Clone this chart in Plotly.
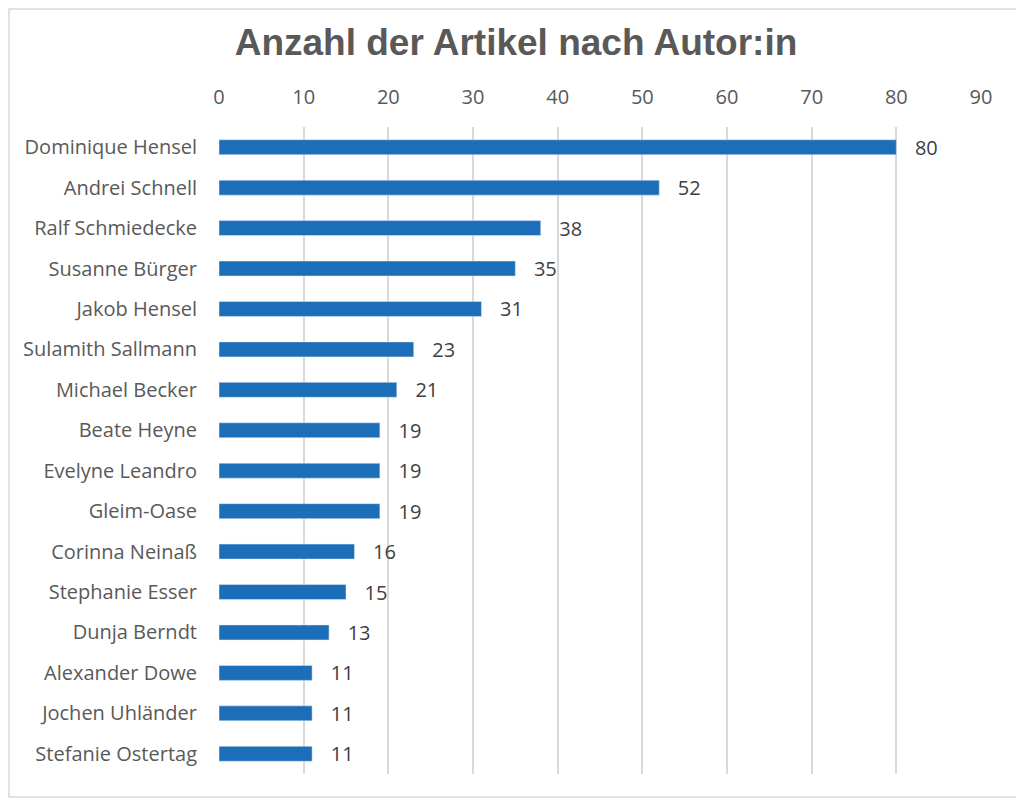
import plotly.graph_objects as go

# Artikel pro Autor:in
autoren = [
    "Dominique Hensel", "Andrei Schnell", "Ralf Schmiedecke", "Susanne Bürger",
    "Jakob Hensel", "Sulamith Sallmann", "Michael Becker", "Beate Heyne",
    "Evelyne Leandro", "Gleim-Oase", "Corinna Neinaß", "Stephanie Esser",
    "Dunja Berndt", "Alexander Dowe", "Jochen Uhländer", "Stefanie Ostertag",
]
artikel = [80, 52, 38, 35, 31, 23, 21, 19, 19, 19, 16, 15, 13, 11, 11, 11]
ticks = [0, 10, 20, 30, 40, 50, 60, 70, 80, 90]

# the page has an 8px body margin, so the figure is a bit smaller
W, H = 1016, 790
L, R, T, B = 211, 43, 119, 24
pw, ph = W - L - R, H - T - B

fig = go.Figure()

fig.add_trace(go.Bar(
    y=autoren,
    x=artikel,
    orientation="h",
    marker=dict(color="#1B6EB7"),
    texttemplate="   %{x}",
    textposition="outside",
    constraintext="none",
    textfont=dict(family="Open Sans", size=20, color="#404040"),
    cliponaxis=False,
))

fig.update_layout(
    width=W,
    height=H,
    margin=dict(l=L, r=R, t=T, b=B),
    paper_bgcolor="white",
    plot_bgcolor="white",
    bargap=0.63,
    showlegend=False,
    title=dict(
        text="<b>Anzahl der Artikel nach Autor:in</b>",
        x=0.5, xanchor="center",
        y=1 - 34 / H, yanchor="middle",
        font=dict(family="Liberation Sans", size=37, color="#595959"),
    ),
    xaxis=dict(
        side="top",
        range=[0, 90],
        tickvals=ticks,
        showgrid=True,
        gridcolor="#D9D9D9",
        gridwidth=1.5,
        zeroline=False,
        showline=False,
        ticks="",
        ticklabelstandoff=18,
        tickfont=dict(family="Open Sans", size=20, color="#595959"),
    ),
    yaxis=dict(
        autorange="reversed",
        showgrid=False,
        ticks="",
        ticklabelstandoff=21,
        tickfont=dict(family="Open Sans", size=20, color="#595959"),
    ),
    shapes=[dict(
        type="rect", xref="paper", yref="paper",
        x0=-(L - 1) / pw, x1=(W - L - 2) / pw,
        y0=-(B - 1) / ph, y1=(H - B - 1) / ph,
        line=dict(color="#D9D9D9", width=1.5),
    )],
)

fig.write_html("out.html")
